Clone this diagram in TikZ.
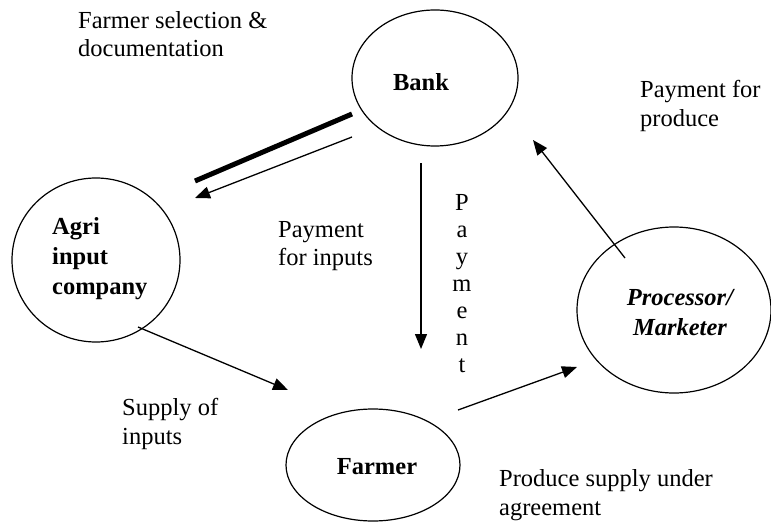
\documentclass[tikz,border=0pt]{standalone}
\usepackage{fontspec}
\setmainfont{Liberation Serif}
\usetikzlibrary{arrows.meta,shapes.geometric}
\begin{document}
\begin{tikzpicture}[x=1pt,y=-1pt,
  every node/.style={font=\fontsize{24.5}{28.5}\selectfont},
  actor/.style={draw,ellipse,line width=1.2pt,inner sep=0pt},
  lbl/.style={inner sep=0pt,align=left,anchor=west},
  flow/.style={line width=1.3pt,-{Triangle[length=15pt,width=12pt]}},
  heavy/.style={line width=5pt}]
\useasboundingbox (0,0) rectangle (771,524);
% ellipses
\node[actor,minimum width=166pt,minimum height=136pt] (bank) at (435,78) {};
\node[actor,minimum width=168pt,minimum height=164pt] (agri) at (96,260) {};
\node[actor,minimum width=194pt,minimum height=166pt] (proc) at (674,310) {};
\node[actor,minimum width=174pt,minimum height=112pt] (farmer) at (373,465) {};
% labels inside
\node[inner sep=0pt,font=\fontsize{24.5}{28.5}\selectfont\bfseries] (banklbl) at (421,82) {Bank};
\node[lbl,font=\fontsize{24.5}{30}\selectfont\bfseries] (agrilbl) at (52,259) {Agri\\input\\company};
\node[inner sep=0pt,align=center,font=\fontsize{24.5}{30}\selectfont\bfseries\itshape] (proclbl) at (680,313) {Processor/\\Marketer};
\node[inner sep=0pt,font=\fontsize{24.5}{28.5}\selectfont\bfseries] (farmerlbl) at (377,467) {Farmer};
% annotations
\node[lbl] (t1) at (78,34) {Farmer selection \&\\documentation};
\node[lbl] (t2) at (640,106) {Payment for\\produce};
\node[lbl] (t3) at (278,246) {Payment\\for inputs};
\node[lbl] (t4) at (122,424) {Supply of\\inputs};
\node[lbl] (t5) at (499,495) {Produce supply under\\agreement};
\node[inner sep=0pt,align=center,font=\fontsize{24.5}{27}\selectfont] (t6) at (462,284) {P\\a\\y\\m\\e\\n\\t};
% connector end points
\coordinate (h1) at (352,114);
\coordinate (h2) at (195,181);
\coordinate (a1) at (352,137);
\coordinate (a2) at (195,198);
\coordinate (v1) at (421,163);
\coordinate (v2) at (421,349);
\coordinate (s1) at (138,327);
\coordinate (s2) at (288,390);
\coordinate (p1) at (458,410);
\coordinate (p2) at (577,367);
\coordinate (q1) at (625,258);
\coordinate (q2) at (533,140);
% connectors
\draw[heavy] (h1) -- (h2);
\draw[flow] (a1) -- (a2);
\draw[flow] (v1) -- (v2);
\draw[flow] (s1) -- (s2);
\draw[flow] (p1) -- (p2);
\draw[flow] (q1) -- (q2);
\end{tikzpicture}
\end{document}
